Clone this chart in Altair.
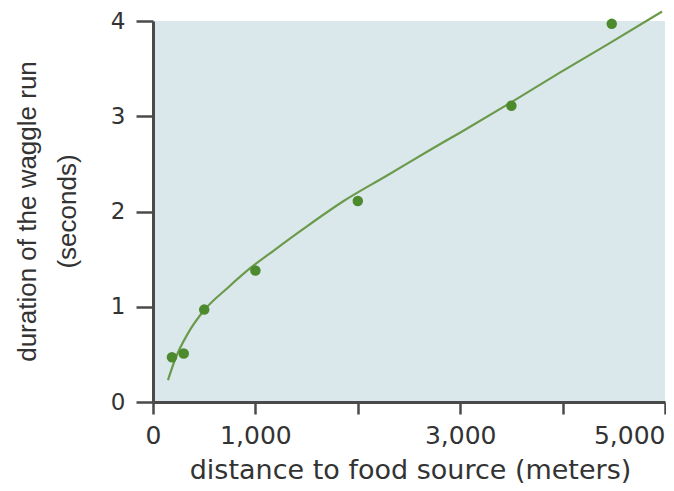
import altair as alt
import pandas as pd

# observed data points
dist_pts = [185, 300, 500, 1000, 2000, 3500, 4480]
dur_pts = [0.47, 0.51, 0.97, 1.38, 2.11, 3.11, 3.97]

# fitted curve
fit_dist = [146, 224, 341, 497, 731, 955, 1179, 1472, 1862, 2290, 2680, 3002, 3489, 3977, 4464, 4971]
fit_dur = [0.23, 0.47, 0.72, 0.96, 1.20, 1.41, 1.59, 1.82, 2.11, 2.38, 2.63, 2.83, 3.14, 3.46, 3.77, 4.10]

x_ticks = [0, 1000, 2000, 3000, 4000, 5000]
y_ticks = [0, 1, 2, 3, 4]

pts = pd.DataFrame({"d": dist_pts, "t": dur_pts})
fit = pd.DataFrame({"d": fit_dist, "t": fit_dur})

axis_color = "#4a4a4a"
text_color = "#333333"

xscale = alt.Scale(domain=[0, 5000], nice=False, zero=False)
yscale = alt.Scale(domain=[0, 4], nice=False)

xaxis = alt.Axis(
    values=x_ticks,
    labelExpr="(datum.value == 2000 || datum.value == 4000) ? '' : format(datum.value, ',')",
    labelAlign={"expr": "datum.value == 5000 ? 'right' : 'center'"},
    grid=False,
    domainColor=axis_color, domainWidth=3,
    tickColor=axis_color, tickWidth=2.5, tickSize=12,
    labelFont="DejaVu Sans", labelFontSize=25, labelColor=text_color,
    labelPadding=9, labelFlush=False, labelOverlap=False,
    title="distance to food source (meters)",
    titleFont="DejaVu Sans", titleFontSize=27, titleFontWeight="normal",
    titleColor=text_color, titleX=257, titleY=76, titleAlign="center",
    titleBaseline="alphabetic", titleAnchor="middle",
)
yaxis = alt.Axis(
    values=y_ticks,
    format="d",
    grid=False,
    domainColor=axis_color, domainWidth=3,
    tickColor=axis_color, tickWidth=2.5, tickSize=17,
    labelFont="DejaVu Sans", labelFontSize=23, labelColor=text_color,
    labelPadding=11, labelFlush=False, labelOverlap=False,
    title=["duration of the waggle run", "(seconds)"],
    titleFont="Liberation Sans", titleFontSize=26, titleFontWeight="normal",
    titleColor=text_color, titleAngle=270, titleX=-118, titleY=190,
    titleAlign="center", titleBaseline="alphabetic", titleLineHeight=40,
)

line = alt.Chart(fit).mark_line(
    color="#6b9a4b", strokeWidth=2.2, interpolate="monotone", clip=False
).encode(
    x=alt.X("d:Q", scale=xscale, axis=xaxis),
    y=alt.Y("t:Q", scale=yscale, axis=yaxis),
)

points = alt.Chart(pts).mark_circle(
    color="#4d8a2e", size=110, opacity=1
).encode(
    x=alt.X("d:Q", scale=xscale),
    y=alt.Y("t:Q", scale=yscale),
)

chart = (line + points).properties(
    width=512,
    height=381,
    autosize=alt.AutoSizeParams(type="none"),
    padding={"left": 145, "top": 13, "right": 1, "bottom": 81},
).configure_view(
    fill="#dae8ec", stroke=None
)

chart.save("out.html", embed_options={"renderer": "svg", "actions": False})
